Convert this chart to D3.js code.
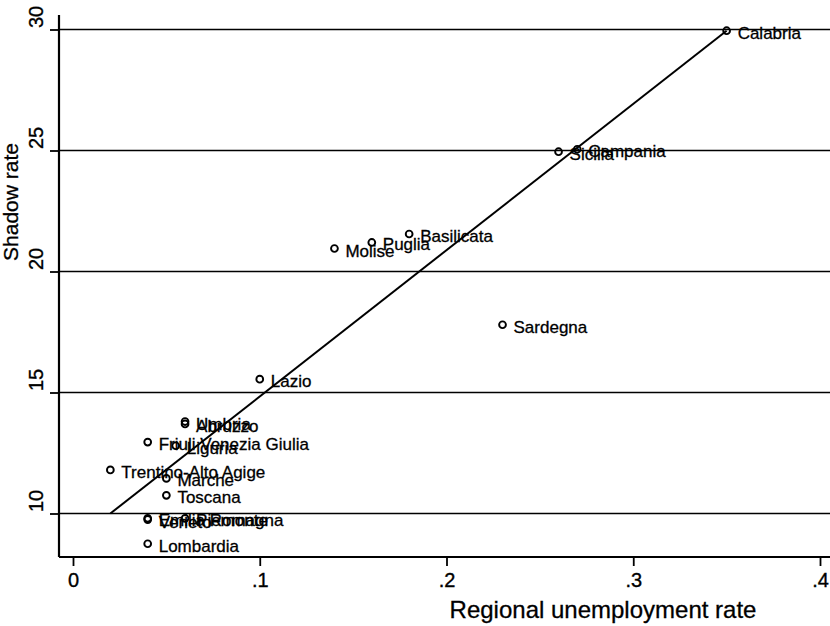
<!DOCTYPE html>
<html>
<head>
<meta charset="utf-8">
<script src="https://cdn.jsdelivr.net/npm/d3@7/dist/d3.min.js"></script>
<style>
  html, body { margin: 0; padding: 0; background: #fff; }
  svg { display: block; font-family: "Liberation Sans", Arial, sans-serif; }
</style>
</head>
<body>
<svg id="chart" width="830" height="626"></svg>
<script>
// ---- data ----
const regions = ["Calabria","Campania","Sicilia","Basilicata","Puglia","Molise","Sardegna","Lazio",
  "Umbria","Abruzzo","Friuli Venezia Giulia","Liguria","Trentino-Alto Agige","Marche","Toscana",
  "Emilia Romagna","Veneto","Piemonte","Lombardia"];
const unemploymentRate = [0.35,0.27,0.26,0.18,0.16,0.14,0.23,0.10,
  0.06,0.06,0.04,0.055,0.02,0.05,0.05,
  0.04,0.04,0.06,0.04];
const shadowRate = [29.95,25.05,24.95,21.55,21.2,20.95,17.8,15.55,
  13.8,13.7,12.95,12.8,11.8,11.45,10.75,
  9.8,9.75,9.8,8.75];
const fitX = [0.02, 0.35];
const fitY = [10.0, 29.95];
const xTicks = [0, 0.1, 0.2, 0.3, 0.4];
const xTickLabels = ["0", ".1", ".2", ".3", ".4"];
const yTicks = [10, 15, 20, 25, 30];
const yTickLabels = ["10", "15", "20", "25", "30"];
const xTitle = "Regional unemployment rate";
const yTitle = "Shadow rate";

// ---- layout ----
const svg = d3.select("#chart");
const x = d3.scaleLinear().domain([0, 0.4]).range([73, 820]);
const y = d3.scaleLinear().domain([10, 30]).range([513.5, 29.5]);
const axisX0 = 59, axisY0 = 557, rightEdge = 830, topEdge = 15;

// gridlines
svg.append("g").selectAll("line").data(yTicks).join("line")
  .attr("x1", axisX0).attr("x2", rightEdge)
  .attr("y1", d => y(d)).attr("y2", d => y(d))
  .attr("stroke", "#000").attr("stroke-width", 1.6);

// y axis
const yAxis = d3.axisLeft(y).tickValues(yTicks).tickSize(9).tickSizeOuter(0)
  .tickFormat((d, i) => yTickLabels[i]);
const gy = svg.append("g").attr("transform", `translate(${axisX0},0)`).call(yAxis);
gy.select(".domain").remove();
gy.selectAll(".tick line").attr("stroke", "#000").attr("stroke-width", 1.8);
gy.selectAll(".tick text")
  .attr("font-size", 20).attr("fill", "#000")
  .attr("stroke", "#000").attr("stroke-width", 0.35)
  .attr("text-anchor", "start")
  .attr("x", 0).attr("dy", null).attr("y", 0)
  .attr("transform", "translate(-16,-2) rotate(-90)");

// x axis
const xAxis = d3.axisBottom(x).tickValues(xTicks).tickSize(9).tickSizeOuter(0)
  .tickFormat((d, i) => xTickLabels[i]);
const gx = svg.append("g").attr("transform", `translate(0,${axisY0})`).call(xAxis);
gx.select(".domain").remove();
gx.selectAll(".tick line").attr("stroke", "#000").attr("stroke-width", 1.8);
gx.selectAll(".tick text").attr("font-size", 20).attr("fill", "#000")
  .attr("stroke", "#000").attr("stroke-width", 0.35)
  .attr("y", 16).attr("dy", "0.71em");

// axis lines
svg.append("line").attr("x1", axisX0).attr("x2", axisX0).attr("y1", topEdge).attr("y2", axisY0)
  .attr("stroke", "#000").attr("stroke-width", 2.2);
svg.append("line").attr("x1", axisX0).attr("x2", rightEdge).attr("y1", axisY0).attr("y2", axisY0)
  .attr("stroke", "#000").attr("stroke-width", 2.2);

// fit line
svg.append("path")
  .attr("d", d3.line()(fitX.map((v, i) => [x(v), y(fitY[i])])))
  .attr("fill", "none").attr("stroke", "#000").attr("stroke-width", 2);

// points
const pts = regions.map((r, i) => ({ name: r, ux: unemploymentRate[i], sy: shadowRate[i] }));
svg.append("g").selectAll("circle").data(pts).join("circle")
  .attr("cx", d => x(d.ux)).attr("cy", d => y(d.sy)).attr("r", 3.4)
  .attr("fill", "none").attr("stroke", "#000").attr("stroke-width", 1.9);

// labels
svg.append("g").selectAll("text").data(pts).join("text")
  .attr("x", d => x(d.ux) + 11).attr("y", d => y(d.sy) + 8)
  .attr("font-size", 17).attr("fill", "#000")
  .attr("stroke", "#000").attr("stroke-width", 0.3)
  .text(d => d.name);

// titles
svg.append("text").attr("x", 603).attr("y", 618).attr("text-anchor", "middle")
  .attr("font-size", 24).attr("fill", "#000")
  .attr("stroke", "#000").attr("stroke-width", 0.3).text(xTitle);
svg.append("text").attr("transform", "translate(18,202) rotate(-90)").attr("text-anchor", "middle")
  .attr("font-size", 21).attr("fill", "#000")
  .attr("stroke", "#000").attr("stroke-width", 0.3).text(yTitle);
</script>
</body>
</html>
